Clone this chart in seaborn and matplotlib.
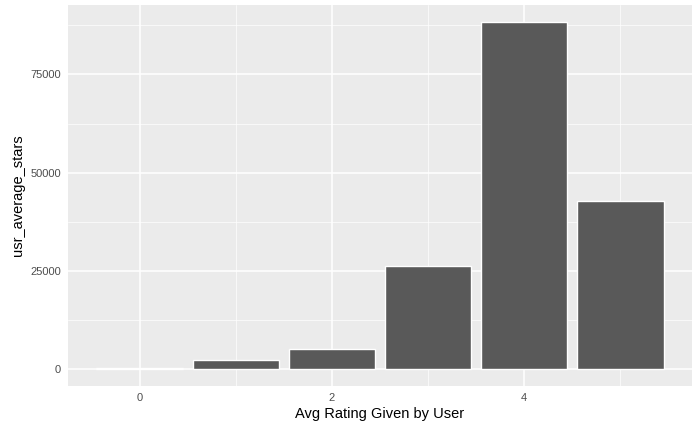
import matplotlib
matplotlib.use("Agg")
import matplotlib.pyplot as plt
import numpy as np
import pandas as pd
import seaborn as sns

# 値は画像から読み取り
ratings = [0, 1, 2, 3, 4, 5]
counts = [60, 2300, 5100, 26300, 88300, 42700]

df = pd.DataFrame({"rating": ratings, "count": counts})

sns.set_theme(style="darkgrid", rc={
    "axes.facecolor": "#EBEBEB",
    "grid.color": "white",
    "axes.edgecolor": "#EBEBEB",
})
plt.rcParams['font.family'] = ['Liberation Sans', 'DejaVu Sans']

fig = plt.figure(figsize=(7, 4.32), dpi=100)
ax = fig.add_axes([68/700, 1-386/432, (692-68)/700, (386-5)/432])

sns.barplot(data=df, x="rating", y="count", native_scale=True,
            color="#595959", width=0.9, saturation=1, ax=ax, zorder=3)

ax.set_xlim(-0.745, 5.745)
ax.set_ylim(-4415, 92715)
ax.set_xticks([0, 2, 4])
ax.set_xticks([1, 3, 5], minor=True)
ax.set_yticks([0, 25000, 50000, 75000])
ax.set_yticks([12500, 37500, 62500, 87500], minor=True)
ax.grid(which="major", color="white", linewidth=1.1)
ax.grid(which="minor", color="white", linewidth=0.5)
ax.tick_params(which="major", length=3, color="#333333", labelsize=8, labelcolor="#4D4D4D", pad=2)
ax.tick_params(which="minor", length=0)
for s in ax.spines.values():
    s.set_visible(False)
ax.set_xlabel("Avg Rating Given by User", fontsize=10.5, color="black", labelpad=3)
ax.set_ylabel("usr_average_stars", fontsize=10.5, color="black", labelpad=4)

fig.savefig("out.png", dpi=100)
